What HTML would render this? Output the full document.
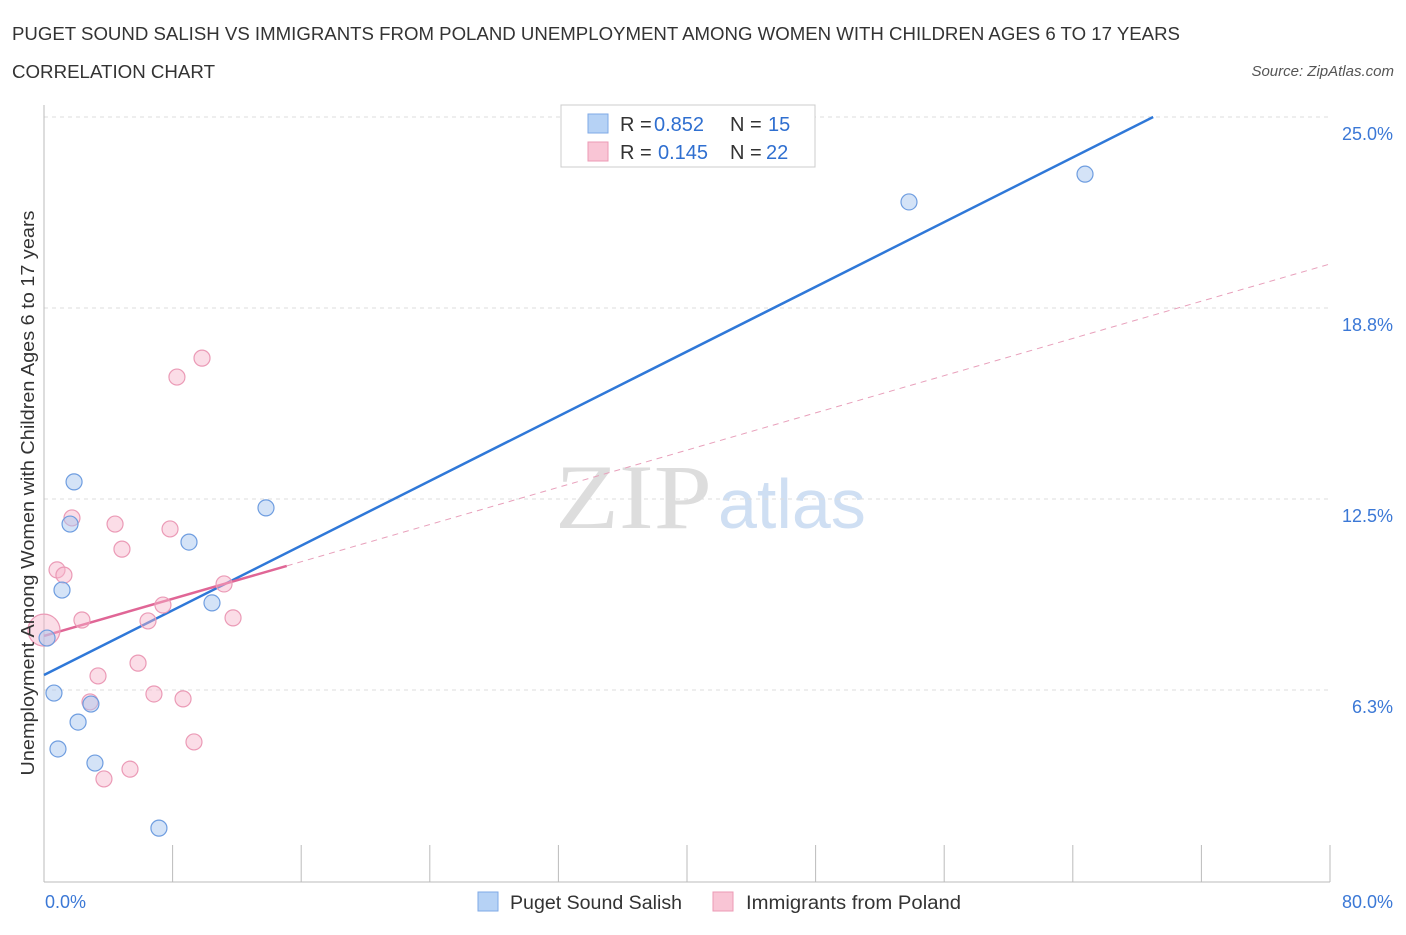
<!DOCTYPE html>
<html><head><meta charset="utf-8"><style>
body{margin:0;background:#fff;font-family:"Liberation Sans",sans-serif;}
</style></head><body>
<svg id="c" width="1406" height="930" xmlns="http://www.w3.org/2000/svg">
<text x="12" y="40" font-size="18" fill="#333" textLength="1168" lengthAdjust="spacingAndGlyphs">PUGET SOUND SALISH VS IMMIGRANTS FROM POLAND UNEMPLOYMENT AMONG WOMEN WITH CHILDREN AGES 6 TO 17 YEARS</text>
<text x="12" y="78" font-size="18" fill="#333" textLength="203" lengthAdjust="spacingAndGlyphs">CORRELATION CHART</text>
<text x="1394" y="76" font-size="15" fill="#555" font-style="italic" text-anchor="end">Source: ZipAtlas.com</text>
<g>
<text x="555" y="528" font-size="92" fill="#ddd" font-family="Liberation Serif,serif" textLength="157" lengthAdjust="spacingAndGlyphs">ZIP</text>
<text x="718" y="528" font-size="70" fill="#cfdff3">atlas</text>
</g>
<g id="grid"></g><g id="axes"></g><g id="lines"></g><g id="pts"></g>
<text transform="translate(34,493) rotate(-90)" font-size="18" fill="#333" text-anchor="middle" textLength="565" lengthAdjust="spacingAndGlyphs">Unemployment Among Women with Children Ages 6 to 17 years</text>
<g>
<rect x="561" y="105" width="254" height="62" fill="#fff" stroke="#ccc"/>
<rect x="588" y="114" width="20" height="19" fill="#b6d2f5" stroke="#7fa9e6"/>
<rect x="588" y="142" width="20" height="19" fill="#f9c5d5" stroke="#ec9ab5"/>
<text x="620" y="131" font-size="20" fill="#333">R =</text>
<text x="654" y="131" font-size="20" fill="#2f6fd0">0.852</text>
<text x="730" y="131" font-size="20" fill="#333">N =</text>
<text x="768" y="131" font-size="20" fill="#2f6fd0">15</text>
<text x="620" y="159" font-size="20" fill="#333">R =</text>
<text x="658" y="159" font-size="20" fill="#2f6fd0">0.145</text>
<text x="730" y="159" font-size="20" fill="#333">N =</text>
<text x="766" y="159" font-size="20" fill="#2f6fd0">22</text>
</g>
<g>
<rect x="478" y="892" width="20" height="19" fill="#b6d2f5" stroke="#7fa9e6"/>
<text x="510" y="909" font-size="19" fill="#333" textLength="172" lengthAdjust="spacingAndGlyphs">Puget Sound Salish</text>
<rect x="713" y="892" width="20" height="19" fill="#f9c5d5" stroke="#ec9ab5"/>
<text x="746" y="909" font-size="19" fill="#333" textLength="215" lengthAdjust="spacingAndGlyphs">Immigrants from Poland</text>
</g>
</svg>
<script>
const blueX=[1.87,1.62,1.12,0.19,0.62,0.87,2.12,2.92,3.17,7.15,9.02,10.45,13.81,53.81,64.76];
const blueY=[13.06,11.68,9.52,7.95,6.15,4.32,5.20,5.79,3.86,1.73,11.09,9.10,12.21,22.22,23.13];
const pinkX=[0,0.81,1.24,1.74,2.36,3.36,3.73,4.42,4.85,5.35,5.85,6.47,6.84,7.40,7.84,8.27,8.65,9.33,9.83,11.20,11.76,2.86];
const pinkY=[8.21,10.18,10.01,11.88,8.54,6.71,3.34,11.68,10.86,3.66,7.13,8.51,6.12,9.03,11.52,16.49,5.96,4.55,17.11,9.72,8.61,5.86];
const yTicks=[6.25,12.5,18.75,25];
const yTickLabels=["6.3%","12.5%","18.8%","25.0%"];
const blueLine=[[0,6.74],[69.0,25.0]];
const pinkSolid=[[0,8.02],[15.1,10.31]];
const pinkDash=[[15.1,10.31],[80,20.19]];
const X0=44,X1=1330,YB=881,PPY=30.56;
const sx=v=>X0+v*(X1-X0)/80, sy=v=>YB-v*PPY;
const NS="http://www.w3.org/2000/svg";
function mk(p,t,a){const e=document.createElementNS(NS,t);for(const k in a)e.setAttribute(k,a[k]);document.getElementById(p).appendChild(e);return e;}
yTicks.forEach((t,i)=>{
 const g=mk('grid','line',{x1:X0,x2:X1,y1:sy(t),y2:sy(t),stroke:'#ddd','stroke-dasharray':'4,4'});
 
 
 const l=mk('grid','text',{x:1393,y:sy(t)+23,'font-size':18,fill:'#3b78d6','text-anchor':'end'});
 l.textContent=yTickLabels[i];
 
 
});
const ax=mk('axes','line',{x1:X0,x2:X0,y1:105,y2:882,stroke:'#bbb'});


const bx=mk('axes','line',{x1:X0,x2:X1,y1:882,y2:882,stroke:'#bbb'});


for(let i=0;i<=10;i++){const t=mk('axes','line',{x1:sx(i*8),x2:sx(i*8),y1:845,y2:882,stroke:'#bbb'});
 
 }
[[0,"0.0%",'start',45],[80,"80.0%",'end',1393]].forEach(d=>{const t=mk('axes','text',{x:d[3],y:908,'font-size':18,fill:'#3b78d6','text-anchor':d[2]});t.textContent=d[1];
 
 });
function ln(p,c,w,dash,name){const e=mk('lines','line',{x1:sx(p[0][0]),y1:sy(p[0][1]),x2:sx(p[1][0]),y2:sy(p[1][1]),stroke:c,'stroke-width':w});if(dash)e.setAttribute('stroke-dasharray',dash);
 
 }
ln(blueLine,'#2f78d8',2.5,null,'trend-line-puget');
ln(pinkDash,'#e8a0bb',1,'6,5','trend-line-poland-extension');
ln(pinkSolid,'#e06696',2.5,null,'trend-line-poland');
pinkX.forEach((x,i)=>{const c=mk('pts','circle',{cx:sx(x),cy:sy(pinkY[i]),r:i==0?16:8,fill:'rgba(246,180,202,0.45)',stroke:'#eb9ab6','stroke-width':1.2});
 
 });
blueX.forEach((x,i)=>{const c=mk('pts','circle',{cx:sx(x),cy:sy(blueY[i]),r:8,fill:'rgba(170,200,240,0.5)',stroke:'#6e9de0','stroke-width':1.2});
 
 });
</script>
</body></html>
